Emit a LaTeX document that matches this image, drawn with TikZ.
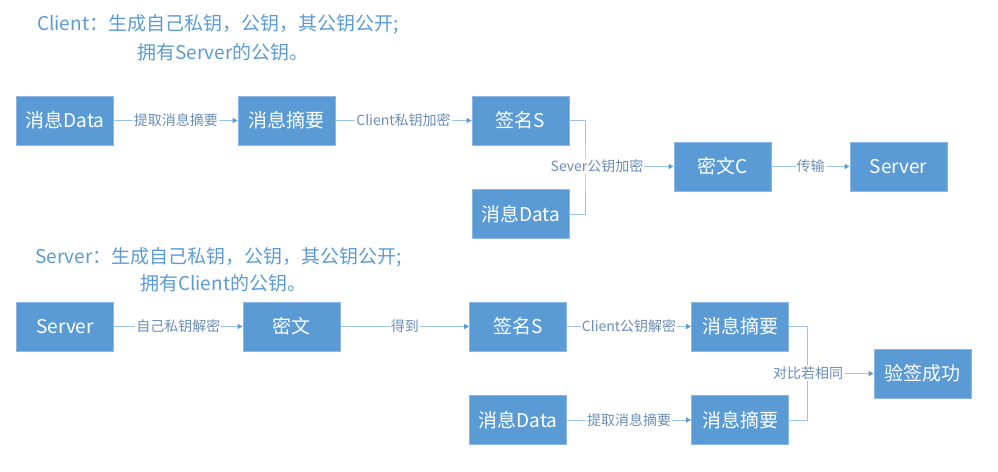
\documentclass[tikz,border=0pt]{standalone}
\usepackage{fontspec}
\setmainfont{Noto Sans CJK SC}
\usetikzlibrary{arrows.meta}
\definecolor{boxblue}{HTML}{5B9BD5}
\definecolor{boxedge}{HTML}{8DB6E2}
\definecolor{linecol}{HTML}{9DC3E6}
\definecolor{labcol}{HTML}{6A8DB8}
\definecolor{titlecol}{HTML}{5B9BD5}
\begin{document}
\begin{tikzpicture}[x=1pt,y=-1pt,
  box/.style={draw=boxedge, line width=0.8pt, fill=boxblue, text=white,
    font=\fontsize{19}{22}\selectfont, minimum width=97pt, minimum height=49pt, inner sep=0pt},
  conn/.style={draw=linecol, line width=0.9pt},
  arr/.style={conn, -{Triangle[length=5pt,width=5pt,color=boxblue]}},
  lab/.style={fill=white, text=labcol, font=\fontsize{14}{16}\selectfont, inner sep=1pt},
  title/.style={text=titlecol, font=\fontsize{19}{22}\selectfont, anchor=west, inner sep=0pt}]
\useasboundingbox (0,0) rectangle (998,471);

% titles
\node[title] (t1) at (37,24) {Client：生成自己私钥，公钥，其公钥公开;};
\node[title] (t1b) at (137,52) {拥有Server的公钥。};
\node[title] (t2) at (35,257) {Server：生成自己私钥，公钥，其公钥公开;};
\node[title] (t2b) at (140,283) {拥有Client的公钥。};

% top flow
\node[box] (d1) at (65,120.5) {消息Data};
\node[box] (h1) at (286.5,120.5) {消息摘要};
\node[box] (s1) at (520.5,120.5) {签名S};
\node[box] (d2) at (520.5,214) {消息Data};
\node[box] (c1) at (722.5,166.5) {密文C};
\node[box] (sv1) at (898.5,166.5) {Server};
\coordinate (b1) at (585,166.5);

\draw[arr] (d1) -- node[lab] (l1) {提取消息摘要} (h1);
\draw[arr] (h1) -- node[lab] (l2) {Client私钥加密} (s1);
\draw[conn] (s1.east) -| (b1) |- (d2.east);
\draw[arr] (b1) -- node[lab, pos=0.135] (l3) {Sever公钥加密} (c1.west);
\draw[arr] (c1) -- node[lab] (l4) {传输} (sv1);

% bottom flow
\node[box] (sv2) at (65,326.5) {Server};
\node[box] (m2) at (291.5,326.5) {密文};
\node[box] (s2) at (518,326.5) {签名S};
\node[box] (d3) at (518,420) {消息Data};
\node[box] (h2) at (740,326.5) {消息摘要};
\node[box] (h3) at (740,420) {消息摘要};
\node[box] (ok) at (922.5,373.5) {验签成功};
\coordinate (b2) at (807,373.5);

\draw[arr] (sv2) -- node[lab] (l5) {自己私钥解密} (m2);
\draw[arr] (m2) -- node[lab] (l6) {得到} (s2);
\draw[arr] (s2) -- node[lab] (l7) {Client公钥解密} (h2);
\draw[arr] (d3) -- node[lab] (l8) {提取消息摘要} (h3);
\draw[conn] (h2.east) -| (b2) |- (h3.east);
\draw[arr] (b2) -- node[lab, pos=0.015] (l9) {对比若相同} (ok.west);
\end{tikzpicture}
\end{document}
